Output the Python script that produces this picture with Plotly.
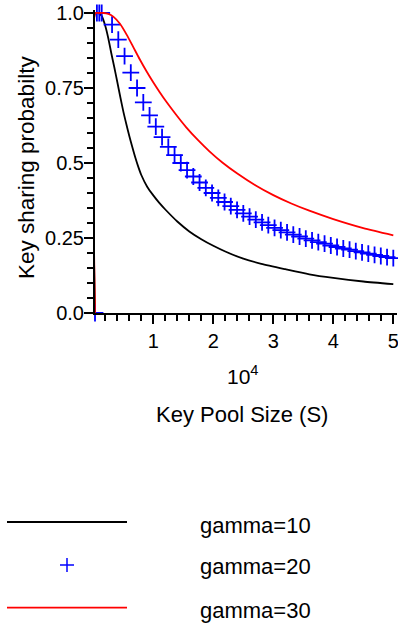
import plotly.graph_objects as go

# ---------------- data ----------------
S_BLACK = [283, 350, 1000, 1400, 2000, 2500, 3000, 3500, 4000, 4500, 5000, 5500, 6000,
           6500, 7000, 7500, 8000, 9000, 10000, 11000, 12000, 14000, 16000, 18000, 20000,
           22000, 25000, 28000, 32000, 36000, 40000, 45000, 50000]
P_BLACK = [0.0, 1.0, 0.998, 0.99, 0.957, 0.916, 0.866, 0.819, 0.77, 0.72, 0.672, 0.63,
           0.59, 0.553, 0.518, 0.487, 0.46, 0.42, 0.392, 0.367, 0.345, 0.305, 0.272,
           0.246, 0.224, 0.205, 0.181, 0.164, 0.146, 0.129, 0.117, 0.105, 0.096]

S_BLUE = [283, 600, 1000, 1400, 3125, 4167, 5208, 6250, 7292, 8333, 9375, 10417, 11458,
          12500, 13542, 14583, 15625, 16667, 17708, 18750, 19792, 20833, 21875, 22917,
          23958, 25000, 26042, 27083, 28125, 29167, 30208, 31250, 32292, 33333, 34375,
          35417, 36458, 37500, 38542, 39583, 40625, 41667, 42708, 43750, 44792, 45833,
          46875, 47917, 48958, 50000]
P_BLUE = [0.0, 1.0, 1.0, 1.0, 0.961, 0.911, 0.856, 0.801, 0.750, 0.702, 0.659, 0.621,
          0.586, 0.554, 0.526, 0.500, 0.476, 0.455, 0.435, 0.417, 0.400, 0.384, 0.370,
          0.356, 0.344, 0.332, 0.321, 0.311, 0.302, 0.293, 0.284, 0.276, 0.269, 0.261,
          0.255, 0.248, 0.242, 0.236, 0.231, 0.225, 0.220, 0.215, 0.211, 0.206, 0.202,
          0.198, 0.194, 0.190, 0.186, 0.183]

S_RED = [283, 350, 800, 1675, 2500, 3332, 4443, 5553, 6646, 7757, 8867, 9960, 11070,
         12180, 13840, 15490, 17420, 19355, 21560, 24000, 27000, 30000, 33000, 36000,
         40000, 45000, 50000]
P_RED = [0.0, 1.0, 1.0, 1.0, 0.997, 0.988, 0.964, 0.928, 0.887, 0.845, 0.806, 0.77, 0.736,
         0.704, 0.66, 0.619, 0.577, 0.539, 0.501, 0.465, 0.426, 0.393, 0.365, 0.341,
         0.313, 0.283, 0.259]

X_TICKS = [10000, 20000, 30000, 40000, 50000]
X_TICKTEXT = ["1", "2", "3", "4", "5"]
Y_TICKS = [0, 0.25, 0.5, 0.75, 1.0]
Y_TICKTEXT = ["0.0", "0.25", "0.5", "0.75", "1.0"]
LEGEND_NAMES = ["gamma=10", "gamma=20", "gamma=30"]

FONT = "Liberation Sans"

fig = go.Figure()
fig.add_trace(go.Scatter(x=S_BLACK, y=P_BLACK, mode="lines",
                         line=dict(color="black", width=1.8, shape="spline", smoothing=0.6),
                         name=LEGEND_NAMES[0], showlegend=False, cliponaxis=False))
fig.add_trace(go.Scatter(x=S_BLUE, y=P_BLUE, mode="markers",
                         marker=dict(symbol="cross-thin-open", size=12, color="#0000ff",
                                     line=dict(color="#0000ff", width=1.8)),
                         name=LEGEND_NAMES[1], showlegend=False, cliponaxis=False))
fig.add_trace(go.Scatter(x=S_RED, y=P_RED, mode="lines",
                         line=dict(color="#ff0000", width=1.8, shape="spline", smoothing=0.6),
                         name=LEGEND_NAMES[2], showlegend=False, cliponaxis=False))

L, R, T, B = 95, 1, 10, 314
W, H = 398, 627
PW = W - L - R
PH = H - T - B


def px(xp):
    return (xp - L) / PW


def py(yp):
    return (T + PH - yp) / PH


axis_common = dict(showgrid=False, zeroline=False, automargin=False,
                   showline=True, linecolor="black", linewidth=2,
                   ticks="outside", ticklen=9, tickwidth=1.5, tickcolor="black",
                   ticklabeloverflow="allow",
                   tickfont=dict(family=FONT, size=20, color="black"))

fig.update_layout(
    width=W, height=H, autosize=False,
    margin=dict(l=L, r=R, t=T, b=B, pad=0, autoexpand=False),
    plot_bgcolor="white", paper_bgcolor="white",
    font=dict(family=FONT, color="black", size=20),
    showlegend=False,
    xaxis=dict(range=[283, 50617], tickvals=X_TICKS, ticktext=X_TICKTEXT,
               minor=dict(dtick=2000, tick0=0, ticks="outside", ticklen=6,
                          tickwidth=1.5, tickcolor="black"), **axis_common),
    yaxis=dict(range=[0, 1.01], tickvals=Y_TICKS, ticktext=Y_TICKTEXT,
               ticklabelstandoff=-4,
               minor=dict(dtick=0.05, tick0=0, ticks="outside", ticklen=6,
                          tickwidth=1.5, tickcolor="black"), **axis_common),
)

ann = [
    dict(text="10<sup>4</sup>", x=px(243), y=py(390), xanchor="center", yanchor="bottom",
         font=dict(family=FONT, size=21)),
    dict(text="Key Pool Size (S)", x=px(242), y=py(414), xanchor="center", yanchor="middle",
         font=dict(family=FONT, size=22)),
    dict(text="Key sharing probabilty", x=px(26), y=py(168), textangle=-90,
         xanchor="center", yanchor="middle", font=dict(family=FONT, size=22.5)),
]
rows_text = [525, 566, 610]
for name, yv in zip(LEGEND_NAMES, rows_text):
    ann.append(dict(text=name, x=px(198), y=py(yv), xanchor="left", yanchor="middle",
                    font=dict(family=FONT, size=22)))
for a in ann:
    a.update(xref="paper", yref="paper", showarrow=False)
fig.update_layout(annotations=ann)

shapes = [
    dict(type="line", x0=px(7), x1=px(127), y0=py(522), y1=py(522),
         line=dict(color="black", width=1.8)),
    dict(type="line", x0=px(7), x1=px(127), y0=py(607.7), y1=py(607.7),
         line=dict(color="#ff0000", width=1.8)),
    dict(type="line", x0=px(60), x1=px(74), y0=py(565), y1=py(565),
         line=dict(color="#0000ff", width=1.5)),
    dict(type="line", x0=px(67), x1=px(67), y0=py(558), y1=py(572),
         line=dict(color="#0000ff", width=1.5)),
]
for s in shapes:
    s.update(xref="paper", yref="paper")
fig.update_layout(shapes=shapes)

fig.write_html("out.html", config={"displayModeBar": False},
               post_script="document.body.style.margin='0';document.body.style.overflow='hidden';")
